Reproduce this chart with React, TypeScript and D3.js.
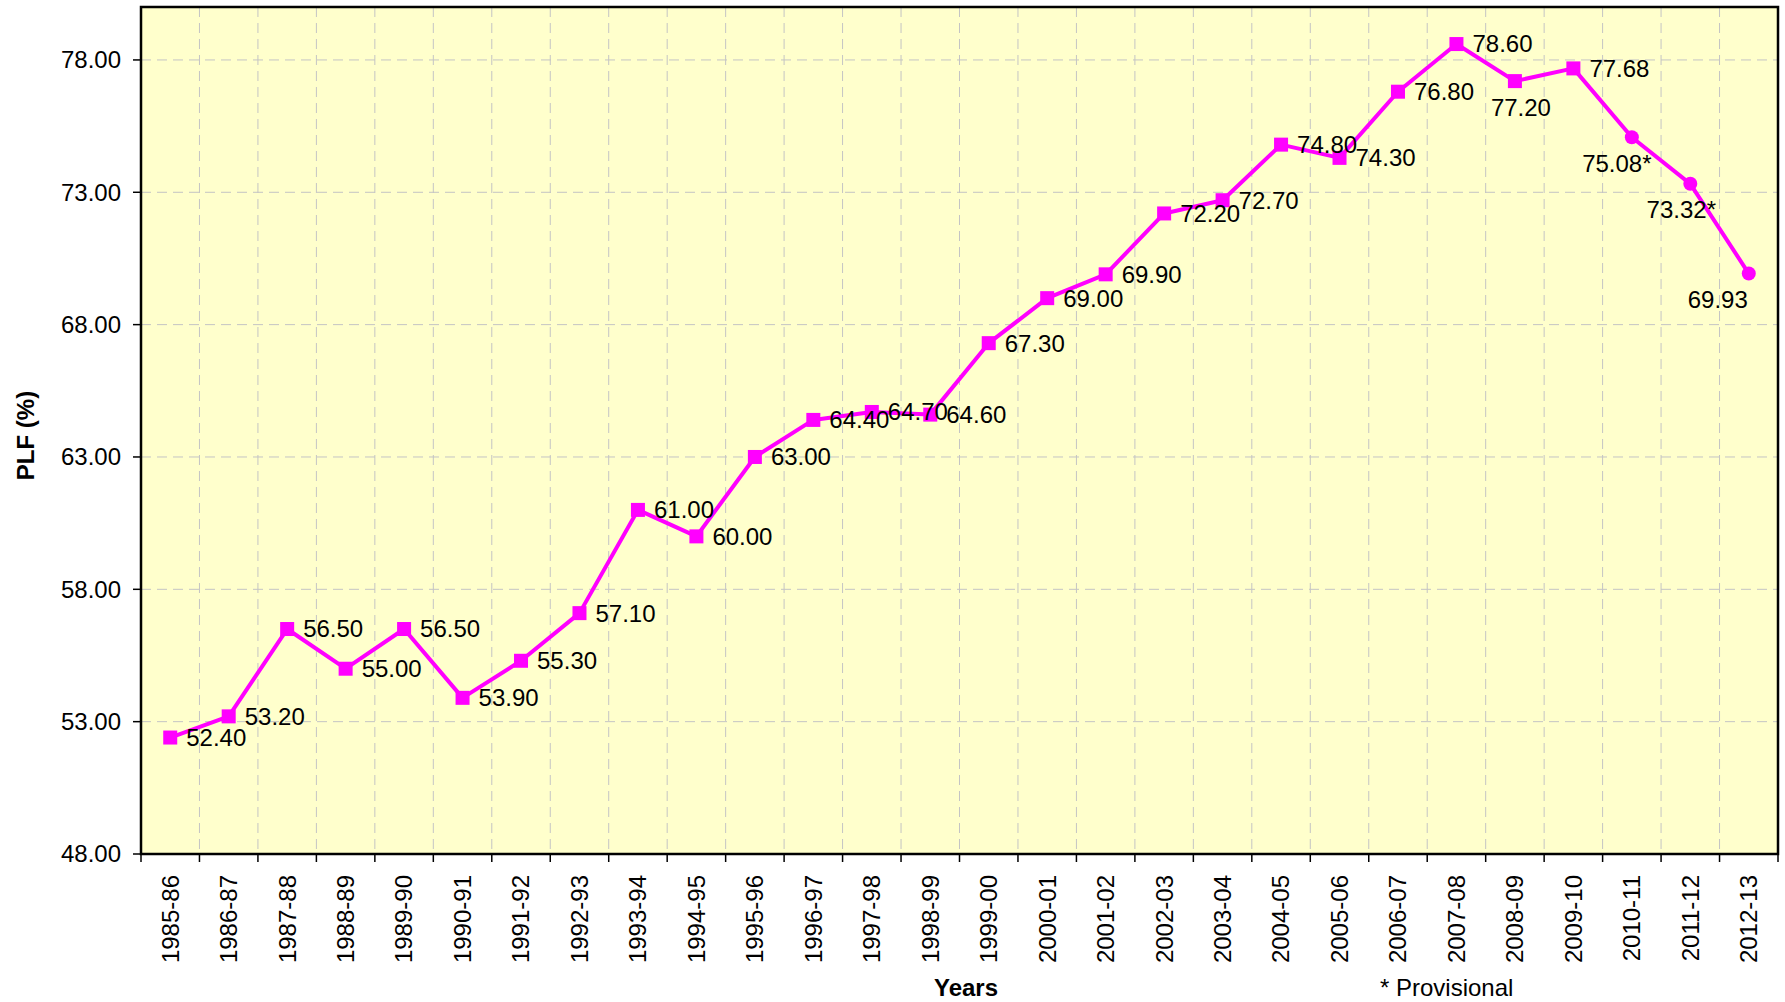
import React from "react";
import * as d3 from "d3";

const years = [
  "1985-86", "1986-87", "1987-88", "1988-89", "1989-90", "1990-91", "1991-92",
  "1992-93", "1993-94", "1994-95", "1995-96", "1996-97", "1997-98", "1998-99",
  "1999-00", "2000-01", "2001-02", "2002-03", "2003-04", "2004-05", "2005-06",
  "2006-07", "2007-08", "2008-09", "2009-10", "2010-11", "2011-12", "2012-13",
];
const plf = [
  52.4, 53.2, 56.5, 55.0, 56.5, 53.9, 55.3, 57.1, 61.0, 60.0, 63.0, 64.4, 64.7,
  64.6, 67.3, 69.0, 69.9, 72.2, 72.7, 74.8, 74.3, 76.8, 78.6, 77.2, 77.68,
  75.08, 73.32, 69.93,
];
const provisional = [
  false, false, false, false, false, false, false, false, false, false, false,
  false, false, false, false, false, false, false, false, false, false, false,
  false, false, false, true, true, false,
];
const circleMarker = ["2010-11", "2011-12", "2012-13"];
const yTicks = [48, 53, 58, 63, 68, 73, 78];

// label placement: "right" default; below labels with horizontal shift
const belowLabels: Record<string, number> = {
  "2008-09": 6,
  "2010-11": -15,
  "2011-12": -9,
  "2012-13": -31,
};

const W = 1785;
const H = 1002;
const M = { left: 141, right: 1778, top: 7, bottom: 854 };
const FONT = "'Liberation Sans', Arial, sans-serif";
const MAG = "#FF00FF";

export default function App() {
  const x = d3.scaleBand<string>().domain(years).range([M.left, M.right]).paddingInner(0).paddingOuter(0);
  const y = d3.scaleLinear().domain([48, 80]).range([M.bottom, M.top]);
  const cx = (c: string) => (x(c) as number) + x.bandwidth() / 2;

  const line = d3
    .line<number>()
    .x((_, i) => cx(years[i]))
    .y((d) => y(d));

  const boundaries = d3.range(years.length + 1).map((i) => M.left + i * x.bandwidth());

  return (
    <svg
      width={W}
      height={H}
      style={{ position: "absolute", left: 0, top: 0, background: "#fff" }}
      fontFamily={FONT}
    >
      <rect x={M.left} y={M.top} width={M.right - M.left} height={M.bottom - M.top} fill="#FFFFCC" />
      {/* grid */}
      {boundaries.slice(1, -1).map((bx, i) => (
        <line key={"gv" + i} x1={bx} x2={bx} y1={M.top} y2={M.bottom} stroke="#c4c4c4" strokeWidth={1} strokeDasharray="10,6" />
      ))}
      {yTicks.slice(1).map((t) => (
        <line key={"gh" + t} x1={M.left} x2={M.right} y1={y(t)} y2={y(t)} stroke="#c4c4c4" strokeWidth={1} strokeDasharray="10,6" />
      ))}
      {/* border */}
      <rect x={M.left} y={M.top} width={M.right - M.left} height={M.bottom - M.top} fill="none" stroke="#000" strokeWidth={2.5} />
      {/* y ticks */}
      {yTicks.map((t) => (
        <g key={"yt" + t}>
          <line x1={M.left - 8} x2={M.left} y1={y(t)} y2={y(t)} stroke="#000" strokeWidth={1.5} />
          <text x={M.left - 20} y={y(t)} dy="0.35em" textAnchor="end" fontSize={24} fill="#000">
            {t.toFixed(2)}
          </text>
        </g>
      ))}
      {/* x ticks */}
      {boundaries.map((bx, i) => (
        <line key={"xt" + i} x1={bx} x2={bx} y1={M.bottom} y2={M.bottom + 8} stroke="#000" strokeWidth={1.5} />
      ))}
      {years.map((c) => (
        <text
          key={"xl" + c}
          transform={`translate(${cx(c)},${M.bottom + 21}) rotate(-90)`}
          dy="0.35em"
          textAnchor="end"
          fontSize={24}
          fill="#000"
        >
          {c}
        </text>
      ))}
      {/* line */}
      <path d={line(plf) || ""} fill="none" stroke={MAG} strokeWidth={4} strokeLinejoin="round" />
      {plf.map((v, i) =>
        circleMarker.includes(years[i]) ? (
          <circle key={"m" + i} cx={cx(years[i])} cy={y(v)} r={7} fill={MAG} />
        ) : (
          <rect key={"m" + i} x={cx(years[i]) - 7} y={y(v) - 7} width={14} height={14} fill={MAG} />
        )
      )}
      {/* labels */}
      {plf.map((v, i) => {
        const c = years[i];
        const txt = v.toFixed(2) + (provisional[i] ? "*" : "");
        if (c in belowLabels) {
          return (
            <text key={"l" + i} x={cx(c) + belowLabels[c]} y={y(v) + 26} dy="0.35em" textAnchor="middle" fontSize={24} fill="#000">
              {txt}
            </text>
          );
        }
        return (
          <text key={"l" + i} x={cx(c) + 16} y={y(v)} dy="0.35em" textAnchor="start" fontSize={24} fill="#000">
            {txt}
          </text>
        );
      })}
      {/* axis titles */}
      <text transform={`translate(26,${(M.top + M.bottom) / 2 + 5}) rotate(-90)`} dy="0.35em" textAnchor="middle" fontSize={24} fontWeight="bold" fill="#000">
        PLF (%)
      </text>
      <text x={966} y={996} textAnchor="middle" fontSize={24} fontWeight="bold" fill="#000">
        Years
      </text>
      <text x={1380} y={996} textAnchor="start" fontSize={24} fill="#000">
        * Provisional
      </text>
    </svg>
  );
}
